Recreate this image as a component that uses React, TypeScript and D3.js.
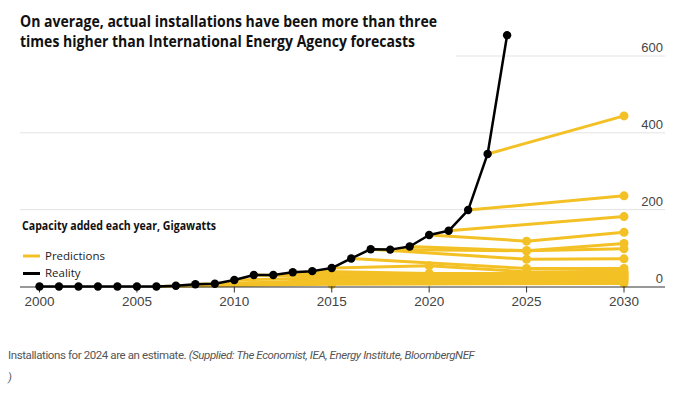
import React from "react";
import * as d3 from "d3";

const years = d3.range(2000, 2025);
const reality = [
  0, 0, 0, 0, 0, 0, 0, 2, 6, 7, 17, 30, 30, 37, 40, 48, 73, 97, 96, 104, 134,
  145, 199, 345, 654
];

// each IEA forecast: year it was made, then [year, GW] points
const predYears = [2006, 2007, 2008, 2009, 2010, 2011, 2012, 2013, 2014, 2015, 2016, 2017, 2018, 2019, 2020, 2021, 2022, 2023];
const predPoints: [number, number][][] = [
  [[2006, 0], [2015, 6], [2030, 8]],
  [[2007, 2], [2015, 9], [2030, 13]],
  [[2008, 6], [2015, 12], [2020, 14], [2030, 17]],
  [[2009, 7], [2015, 16], [2020, 18], [2030, 20]],
  [[2010, 17], [2015, 22], [2020, 20], [2030, 24]],
  [[2011, 30], [2015, 25], [2020, 23], [2025, 22], [2030, 27]],
  [[2012, 30], [2020, 26], [2025, 26], [2030, 30]],
  [[2013, 37], [2020, 30], [2025, 30], [2030, 33]],
  [[2014, 40], [2020, 34], [2025, 34], [2030, 36]],
  [[2015, 48], [2020, 54], [2025, 38], [2030, 40]],
  [[2016, 73], [2025, 47], [2030, 47]],
  [[2017, 97], [2025, 71], [2030, 72]],
  [[2018, 96], [2025, 93], [2030, 98]],
  [[2019, 104], [2025, 93], [2030, 112]],
  [[2020, 134], [2025, 118], [2030, 141]],
  [[2021, 145], [2030, 182]],
  [[2022, 199], [2030, 236]],
  [[2023, 345], [2030, 444]]
];

const xTicks = [2000, 2005, 2010, 2015, 2020, 2025, 2030];
const yTicks = [0, 200, 400, 600];

const YELLOW = "#f3c125";

export default function App() {
  const x = d3.scaleLinear().domain([2000, 2030]).range([39.5, 624]);
  const y = d3.scaleLinear().domain([0, 600]).range([286.5, 56]);
  const line = d3
    .line<[number, number]>()
    .x(d => x(d[0]))
    .y(d => y(d[1]));
  const realPts: [number, number][] = years.map((yr, i) => [yr, reality[i]]);

  return (
    <svg
      width={699}
      height={395}
      style={{ position: "absolute", left: 0, top: 0, background: "#fff" }}
      fontFamily="'Liberation Sans', Arial, sans-serif"
    >
      {/* grid */}
      {yTicks.slice(1).map(t => (
        <line key={t} x1={20} x2={665} y1={y(t)} y2={y(t)} stroke="#e3e3e3" strokeWidth={1} />
      ))}
      {yTicks.map(t => (
        <text key={t} x={663} y={y(t) - 4} textAnchor="end" fontSize={13} fill="#444">
          {t}
        </text>
      ))}

      {/* title box */}
      <rect x={0} y={0} width={456} height={58} fill="#fff" />
      <text x={20} y={27} fontFamily="'Open Sans', sans-serif" fontWeight={700} fontSize={15.5} fill="#111" textLength={417} lengthAdjust="spacingAndGlyphs">
        On average, actual installations have been more than three
      </text>
      <text x={20} y={47} fontFamily="'Open Sans', sans-serif" fontWeight={700} fontSize={15.5} fill="#111" textLength={395} lengthAdjust="spacingAndGlyphs">
        times higher than International Energy Agency forecasts
      </text>

      {/* predictions */}
      {predPoints.map((pts, i) => (
        <g key={predYears[i]}>
          <path d={line(pts) || ""} fill="none" stroke={YELLOW} strokeWidth={3} strokeLinejoin="round" />
          {pts.slice(1).map(p => (
            <circle key={p[0]} cx={x(p[0])} cy={y(p[1])} r={4.5} fill={YELLOW} />
          ))}
        </g>
      ))}

      {/* axis */}
      <line x1={20} x2={665} y1={y(0) + 0.5} y2={y(0) + 0.5} stroke="#333" strokeWidth={1} />
      {xTicks.map(t => (
        <g key={t}>
          <line x1={x(t)} x2={x(t)} y1={y(0)} y2={y(0) + 6} stroke="#333" strokeWidth={1} />
          <text x={x(t)} y={306} textAnchor="middle" fontSize={13.5} fill="#444">
            {t}
          </text>
        </g>
      ))}

      {/* reality */}
      <path d={line(realPts) || ""} fill="none" stroke="#000" strokeWidth={2.5} strokeLinejoin="round" />
      {realPts.map(p => (
        <circle key={p[0]} cx={x(p[0])} cy={y(p[1])} r={4.2} fill="#000" />
      ))}

      {/* legend */}
      <text x={22} y={230} fontFamily="'Open Sans', sans-serif" fontWeight={700} fontSize={11.5} fill="#111" textLength={194} lengthAdjust="spacingAndGlyphs">
        Capacity added each year, Gigawatts
      </text>
      <line x1={23} x2={40} y1={256} y2={256} stroke={YELLOW} strokeWidth={3} />
      <text x={45} y={260} fontFamily="'Open Sans', sans-serif" fontSize={11.5} fill="#222">
        Predictions
      </text>
      <line x1={23} x2={40} y1={273.5} y2={273.5} stroke="#000" strokeWidth={3} />
      <text x={45} y={277} fontFamily="'Open Sans', sans-serif" fontSize={11.5} fill="#222">
        Reality
      </text>

      {/* caption */}
      <text x={8} y={359} fontFamily="Roboto, sans-serif" fontSize={11.5} letterSpacing={-0.4} fill="#555">
        Installations for 2024 are an estimate.{" "}
        <tspan fontStyle="italic">(Supplied: The Economist, IEA, Energy Institute, BloombergNEF</tspan>
      </text>
      <text x={8} y={381} fontFamily="Roboto, sans-serif" fontStyle="italic" fontSize={11.5} fill="#555">
        )
      </text>
    </svg>
  );
}
